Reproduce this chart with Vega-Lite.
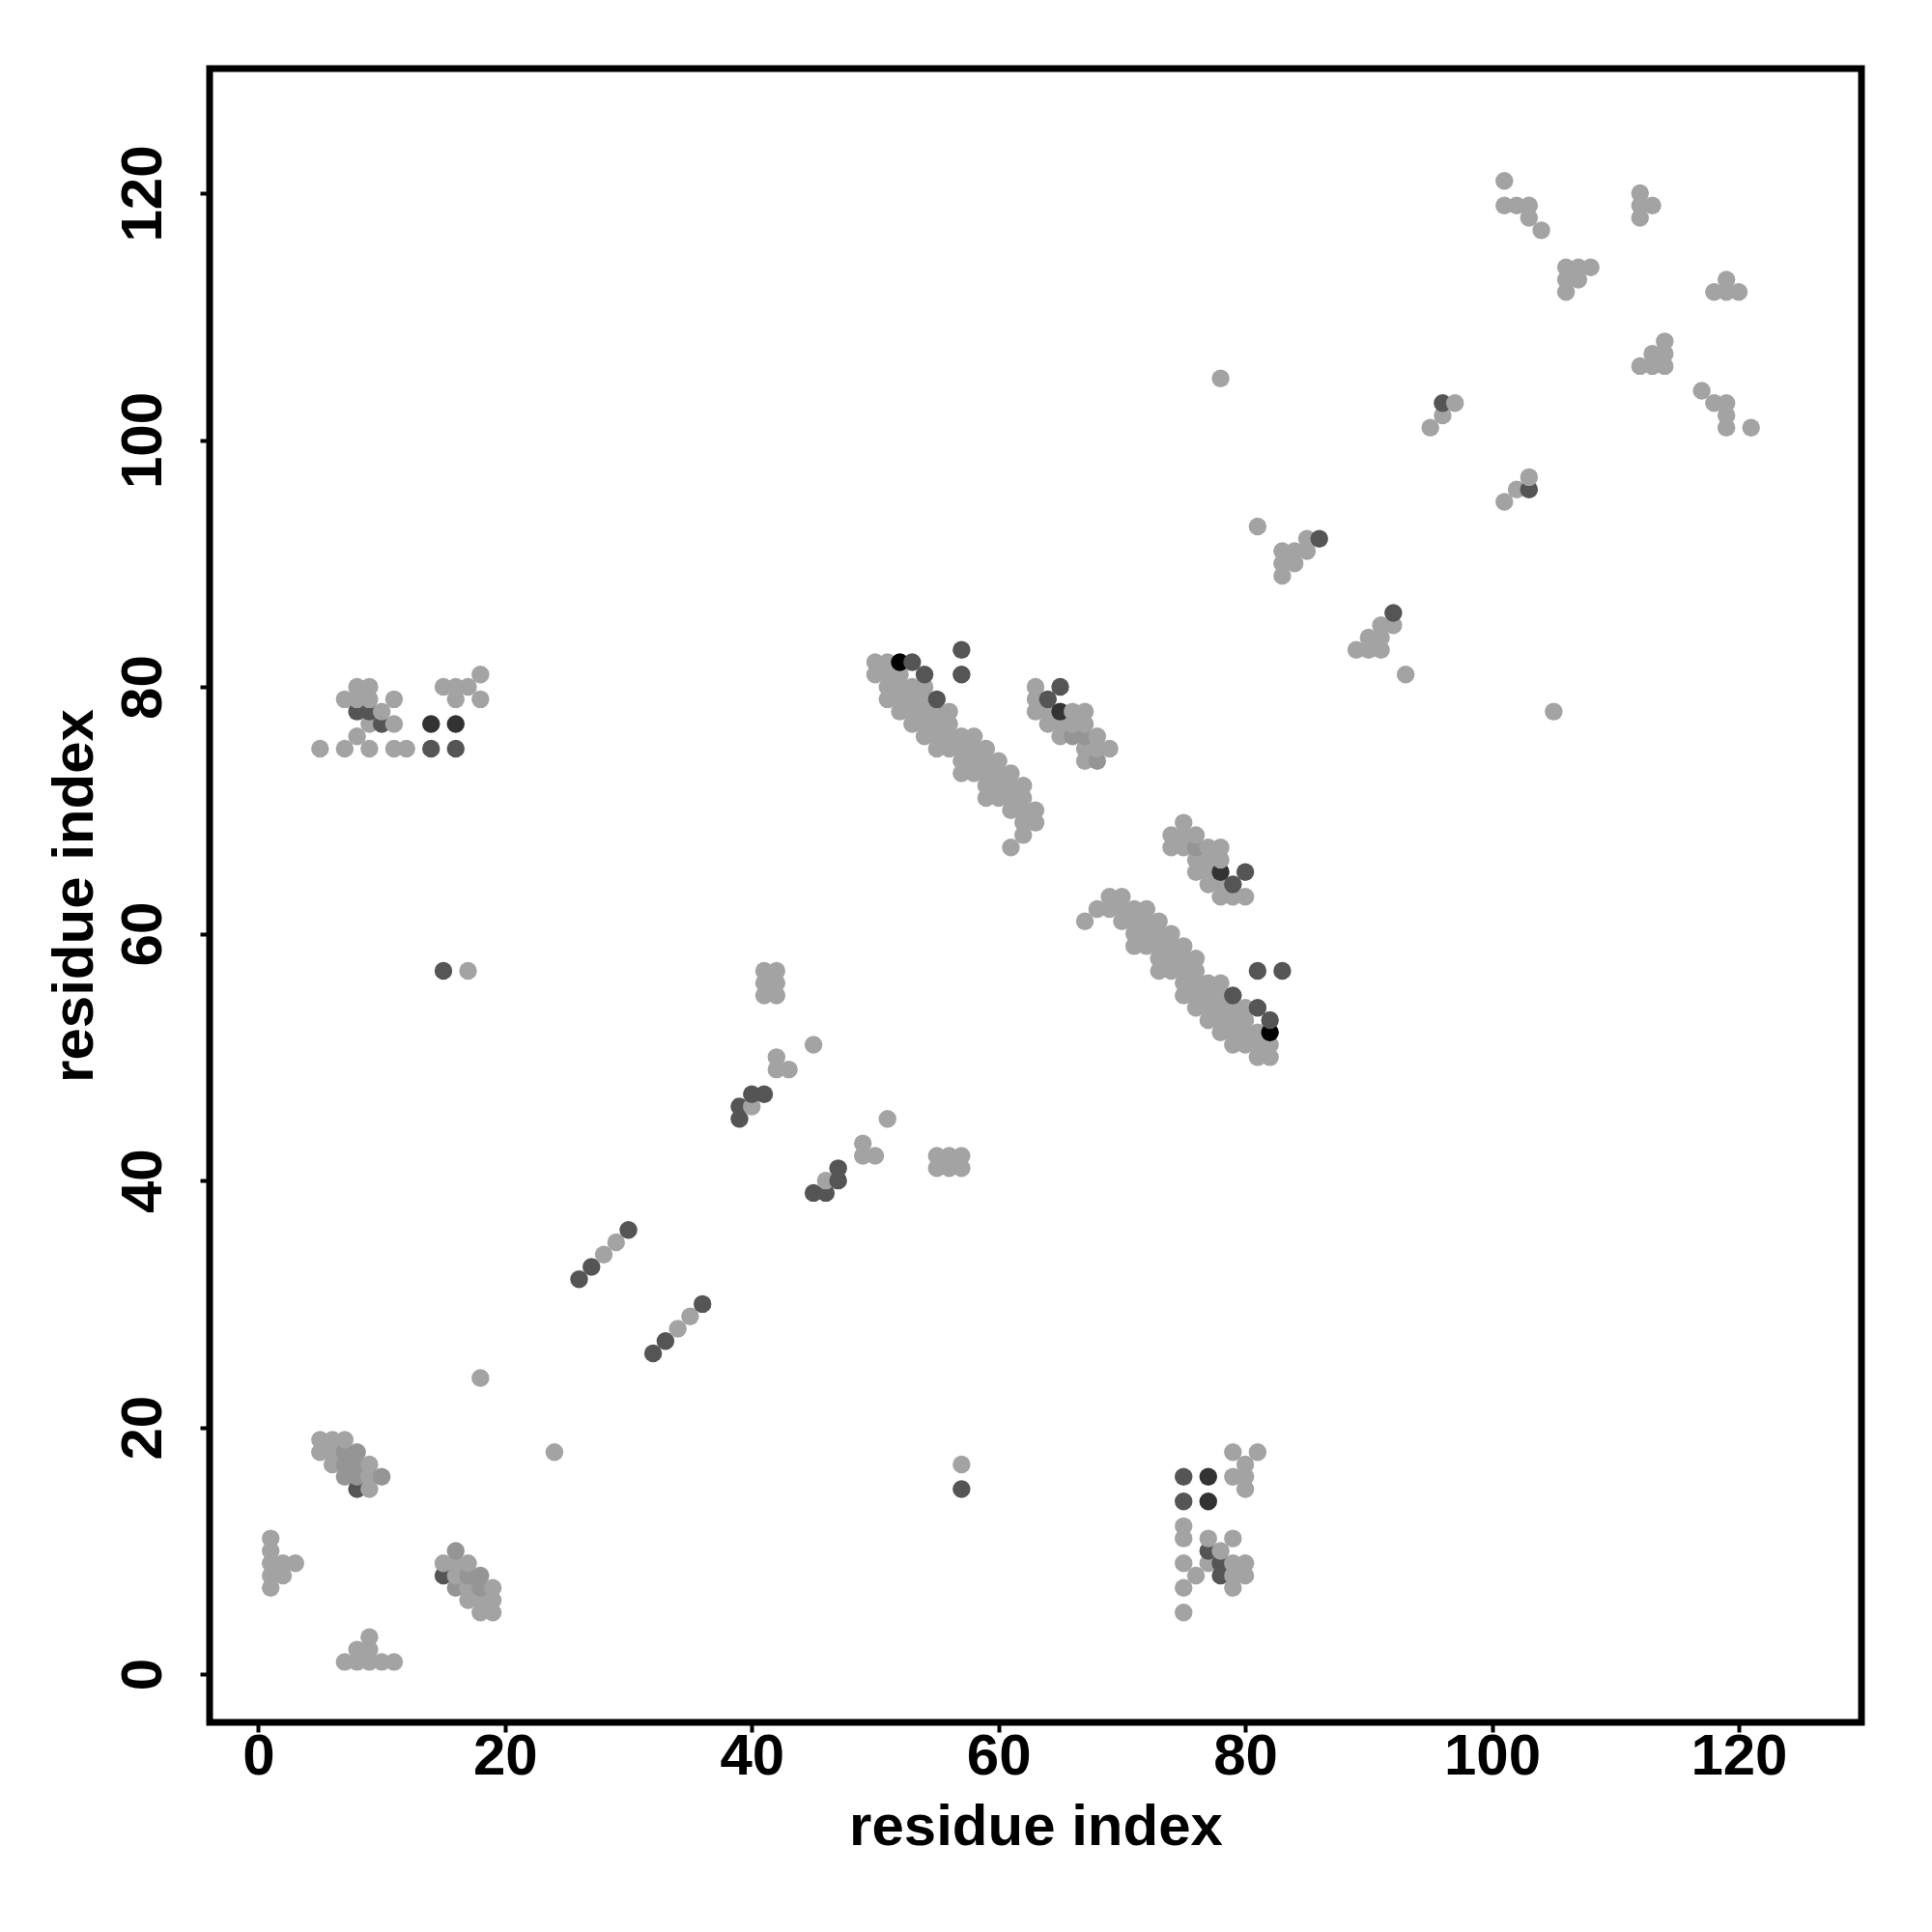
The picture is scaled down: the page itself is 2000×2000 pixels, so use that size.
{"$schema":"https://vega.github.io/schema/vega-lite/v6.json","width":1710,"height":1712,"autosize":{"type":"none"},"padding":{"left":217,"top":71,"right":73,"bottom":217},"background":"white","config":{"view":{"stroke":"black","strokeWidth":7,"fill":"white"},"font":"Liberation Sans"},"data":{"values":[
{"i":1,"j":7,"k":1},{"i":1,"j":8,"k":1},{"i":1,"j":9,"k":1},{"i":1,"j":10,"k":1},{"i":1,"j":11,"k":1},{"i":2,"j":8,"k":1},{"i":2,"j":9,"k":1},{"i":3,"j":9,"k":1},
{"i":5,"j":18,"k":1},{"i":5,"j":19,"k":1},{"i":5,"j":75,"k":1},{"i":6,"j":17,"k":1},{"i":6,"j":18,"k":1},{"i":6,"j":19,"k":1},
{"i":7,"j":1,"k":1},{"i":7,"j":16,"k":2},{"i":7,"j":17,"k":2},{"i":7,"j":18,"k":2},{"i":7,"j":19,"k":1},{"i":7,"j":75,"k":1},{"i":7,"j":79,"k":1},
{"i":8,"j":1,"k":1},{"i":8,"j":2,"k":1},{"i":8,"j":15,"k":3},{"i":8,"j":16,"k":2},{"i":8,"j":17,"k":2},{"i":8,"j":18,"k":2},{"i":8,"j":76,"k":1},{"i":8,"j":78,"k":3},{"i":8,"j":79,"k":1},{"i":8,"j":80,"k":1},
{"i":9,"j":1,"k":1},{"i":9,"j":2,"k":1},{"i":9,"j":3,"k":1},{"i":9,"j":15,"k":1},{"i":9,"j":16,"k":1},{"i":9,"j":17,"k":1},{"i":9,"j":75,"k":1},{"i":9,"j":77,"k":1},{"i":9,"j":78,"k":3},{"i":9,"j":79,"k":1},{"i":9,"j":80,"k":1},
{"i":10,"j":1,"k":1},{"i":10,"j":16,"k":2},{"i":10,"j":77,"k":3},{"i":10,"j":78,"k":1},
{"i":11,"j":1,"k":1},{"i":11,"j":75,"k":1},{"i":11,"j":77,"k":1},{"i":11,"j":79,"k":1},{"i":12,"j":75,"k":1},
{"i":14,"j":75,"k":3},{"i":14,"j":77,"k":4},
{"i":15,"j":8,"k":3},{"i":15,"j":9,"k":1},{"i":15,"j":57,"k":3},{"i":15,"j":80,"k":1},
{"i":16,"j":7,"k":2},{"i":16,"j":8,"k":1},{"i":16,"j":9,"k":1},{"i":16,"j":10,"k":2},{"i":16,"j":75,"k":3},{"i":16,"j":77,"k":4},{"i":16,"j":79,"k":1},{"i":16,"j":80,"k":1},
{"i":17,"j":6,"k":1},{"i":17,"j":7,"k":1},{"i":17,"j":8,"k":2},{"i":17,"j":9,"k":1},{"i":17,"j":57,"k":1},{"i":17,"j":80,"k":1},
{"i":18,"j":5,"k":1},{"i":18,"j":6,"k":1},{"i":18,"j":7,"k":2},{"i":18,"j":8,"k":2},{"i":18,"j":24,"k":1},{"i":18,"j":79,"k":1},{"i":18,"j":81,"k":1},
{"i":19,"j":5,"k":1},{"i":19,"j":6,"k":1},{"i":19,"j":7,"k":1},{"i":24,"j":18,"k":1},
{"i":26,"j":32,"k":3},{"i":27,"j":33,"k":3},{"i":28,"j":34,"k":1},{"i":29,"j":35,"k":1},{"i":30,"j":36,"k":3},
{"i":32,"j":26,"k":3},{"i":33,"j":27,"k":3},{"i":34,"j":28,"k":1},{"i":35,"j":29,"k":1},{"i":36,"j":30,"k":3},
{"i":39,"j":45,"k":3},{"i":39,"j":46,"k":3},{"i":40,"j":46,"k":1},{"i":40,"j":47,"k":3},
{"i":41,"j":47,"k":3},{"i":41,"j":55,"k":1},{"i":41,"j":56,"k":1},{"i":41,"j":57,"k":1},
{"i":42,"j":49,"k":1},{"i":42,"j":50,"k":1},{"i":42,"j":55,"k":1},{"i":42,"j":56,"k":1},{"i":42,"j":57,"k":1},{"i":43,"j":49,"k":1},
{"i":45,"j":39,"k":3},{"i":45,"j":51,"k":1},{"i":46,"j":39,"k":3},{"i":46,"j":40,"k":1},{"i":47,"j":40,"k":3},{"i":47,"j":41,"k":3},
{"i":49,"j":42,"k":1},{"i":49,"j":43,"k":1},{"i":50,"j":42,"k":1},{"i":50,"j":81,"k":1},{"i":50,"j":82,"k":1},
{"i":51,"j":45,"k":1},{"i":51,"j":79,"k":1},{"i":51,"j":80,"k":1},{"i":51,"j":81,"k":1},{"i":51,"j":82,"k":1},
{"i":52,"j":78,"k":1},{"i":52,"j":79,"k":1},{"i":52,"j":80,"k":1},{"i":52,"j":81,"k":1},{"i":52,"j":82,"k":5},
{"i":53,"j":77,"k":1},{"i":53,"j":78,"k":1},{"i":53,"j":79,"k":1},{"i":53,"j":80,"k":1},{"i":53,"j":82,"k":3},
{"i":54,"j":76,"k":1},{"i":54,"j":77,"k":1},{"i":54,"j":78,"k":1},{"i":54,"j":79,"k":1},{"i":54,"j":80,"k":1},{"i":54,"j":81,"k":3},
{"i":55,"j":41,"k":1},{"i":55,"j":42,"k":1},{"i":55,"j":75,"k":1},{"i":55,"j":76,"k":1},{"i":55,"j":77,"k":1},{"i":55,"j":78,"k":1},{"i":55,"j":79,"k":3},
{"i":56,"j":41,"k":1},{"i":56,"j":42,"k":1},{"i":56,"j":75,"k":1},{"i":56,"j":76,"k":1},{"i":56,"j":77,"k":1},{"i":56,"j":78,"k":1},
{"i":57,"j":15,"k":3},{"i":57,"j":17,"k":1},{"i":57,"j":41,"k":1},{"i":57,"j":42,"k":1},{"i":57,"j":73,"k":1},{"i":57,"j":74,"k":1},{"i":57,"j":75,"k":1},{"i":57,"j":76,"k":1},{"i":57,"j":81,"k":3},{"i":57,"j":83,"k":3},
{"i":58,"j":73,"k":1},{"i":58,"j":74,"k":1},{"i":58,"j":75,"k":1},{"i":58,"j":76,"k":1},
{"i":59,"j":71,"k":1},{"i":59,"j":72,"k":1},{"i":59,"j":73,"k":1},{"i":59,"j":74,"k":1},{"i":59,"j":75,"k":1},
{"i":60,"j":71,"k":1},{"i":60,"j":72,"k":1},{"i":60,"j":73,"k":1},{"i":60,"j":74,"k":1},
{"i":61,"j":67,"k":1},{"i":61,"j":70,"k":1},{"i":61,"j":71,"k":1},{"i":61,"j":72,"k":1},{"i":61,"j":73,"k":1},
{"i":62,"j":68,"k":1},{"i":62,"j":69,"k":1},{"i":62,"j":70,"k":1},{"i":62,"j":71,"k":1},{"i":62,"j":72,"k":1},
{"i":63,"j":69,"k":1},{"i":63,"j":70,"k":1},{"i":63,"j":78,"k":1},{"i":63,"j":79,"k":1},{"i":63,"j":80,"k":1},
{"i":64,"j":77,"k":1},{"i":64,"j":78,"k":1},{"i":64,"j":79,"k":3},
{"i":65,"j":76,"k":1},{"i":65,"j":77,"k":1},{"i":65,"j":78,"k":4},{"i":65,"j":80,"k":3},
{"i":66,"j":76,"k":2},{"i":66,"j":77,"k":1},{"i":66,"j":78,"k":1},
{"i":67,"j":61,"k":1},{"i":67,"j":74,"k":1},{"i":67,"j":75,"k":1},{"i":67,"j":76,"k":2},{"i":67,"j":77,"k":1},{"i":67,"j":78,"k":1},
{"i":68,"j":62,"k":1},{"i":68,"j":74,"k":2},{"i":68,"j":75,"k":1},{"i":68,"j":76,"k":1},
{"i":69,"j":62,"k":1},{"i":69,"j":63,"k":1},{"i":69,"j":75,"k":1},
{"i":70,"j":61,"k":1},{"i":70,"j":62,"k":1},{"i":70,"j":63,"k":1},
{"i":71,"j":59,"k":1},{"i":71,"j":60,"k":1},{"i":71,"j":61,"k":1},{"i":71,"j":62,"k":1},
{"i":72,"j":59,"k":1},{"i":72,"j":60,"k":1},{"i":72,"j":61,"k":1},{"i":72,"j":62,"k":1},
{"i":73,"j":57,"k":1},{"i":73,"j":58,"k":1},{"i":73,"j":59,"k":1},{"i":73,"j":60,"k":1},{"i":73,"j":61,"k":1},
{"i":74,"j":57,"k":1},{"i":74,"j":58,"k":1},{"i":74,"j":59,"k":1},{"i":74,"j":60,"k":1},{"i":74,"j":67,"k":1},{"i":74,"j":68,"k":1},
{"i":75,"j":5,"k":1},{"i":75,"j":7,"k":1},{"i":75,"j":9,"k":1},{"i":75,"j":11,"k":1},{"i":75,"j":12,"k":1},{"i":75,"j":14,"k":3},{"i":75,"j":16,"k":3},{"i":75,"j":55,"k":1},{"i":75,"j":56,"k":1},{"i":75,"j":57,"k":1},{"i":75,"j":58,"k":1},{"i":75,"j":59,"k":1},{"i":75,"j":67,"k":1},{"i":75,"j":68,"k":1},{"i":75,"j":69,"k":1},
{"i":76,"j":8,"k":1},{"i":76,"j":54,"k":1},{"i":76,"j":55,"k":1},{"i":76,"j":56,"k":1},{"i":76,"j":57,"k":1},{"i":76,"j":58,"k":1},{"i":76,"j":65,"k":1},{"i":76,"j":66,"k":1},{"i":76,"j":67,"k":2},{"i":76,"j":68,"k":1},
{"i":77,"j":9,"k":1},{"i":77,"j":10,"k":3},{"i":77,"j":11,"k":1},{"i":77,"j":14,"k":4},{"i":77,"j":16,"k":4},{"i":77,"j":53,"k":1},{"i":77,"j":54,"k":1},{"i":77,"j":55,"k":1},{"i":77,"j":56,"k":1},{"i":77,"j":64,"k":1},{"i":77,"j":65,"k":1},{"i":77,"j":66,"k":1},{"i":77,"j":67,"k":1},
{"i":78,"j":8,"k":3},{"i":78,"j":9,"k":3},{"i":78,"j":10,"k":1},{"i":78,"j":52,"k":1},{"i":78,"j":53,"k":1},{"i":78,"j":54,"k":1},{"i":78,"j":55,"k":1},{"i":78,"j":56,"k":1},{"i":78,"j":63,"k":1},{"i":78,"j":64,"k":1},{"i":78,"j":65,"k":4},{"i":78,"j":66,"k":1},{"i":78,"j":67,"k":1},{"i":78,"j":105,"k":1},
{"i":79,"j":7,"k":1},{"i":79,"j":8,"k":1},{"i":79,"j":9,"k":1},{"i":79,"j":11,"k":1},{"i":79,"j":16,"k":1},{"i":79,"j":18,"k":1},{"i":79,"j":51,"k":1},{"i":79,"j":52,"k":1},{"i":79,"j":53,"k":1},{"i":79,"j":54,"k":1},{"i":79,"j":55,"k":3},{"i":79,"j":63,"k":1},{"i":79,"j":64,"k":3},
{"i":80,"j":8,"k":1},{"i":80,"j":9,"k":1},{"i":80,"j":15,"k":1},{"i":80,"j":16,"k":1},{"i":80,"j":17,"k":1},{"i":80,"j":51,"k":1},{"i":80,"j":52,"k":1},{"i":80,"j":53,"k":1},{"i":80,"j":54,"k":1},{"i":80,"j":63,"k":1},{"i":80,"j":65,"k":3},
{"i":81,"j":18,"k":1},{"i":81,"j":50,"k":1},{"i":81,"j":51,"k":1},{"i":81,"j":52,"k":1},{"i":81,"j":54,"k":3},{"i":81,"j":57,"k":3},{"i":81,"j":93,"k":1},
{"i":82,"j":50,"k":1},{"i":82,"j":51,"k":1},{"i":82,"j":52,"k":5},{"i":82,"j":53,"k":3},
{"i":83,"j":57,"k":3},{"i":83,"j":89,"k":1},{"i":83,"j":90,"k":1},{"i":83,"j":91,"k":1},{"i":84,"j":90,"k":1},{"i":84,"j":91,"k":1},{"i":85,"j":91,"k":1},{"i":85,"j":92,"k":1},{"i":86,"j":92,"k":3},
{"i":89,"j":83,"k":1},{"i":90,"j":83,"k":1},{"i":90,"j":84,"k":1},{"i":91,"j":83,"k":1},{"i":91,"j":84,"k":1},{"i":91,"j":85,"k":1},{"i":92,"j":85,"k":1},{"i":92,"j":86,"k":3},{"i":93,"j":81,"k":1},
{"i":95,"j":101,"k":1},{"i":96,"j":102,"k":1},{"i":96,"j":103,"k":3},{"i":97,"j":103,"k":1},
{"i":101,"j":95,"k":1},{"i":101,"j":119,"k":1},{"i":101,"j":121,"k":1},{"i":102,"j":96,"k":1},{"i":102,"j":119,"k":1},{"i":103,"j":96,"k":3},{"i":103,"j":97,"k":1},{"i":103,"j":118,"k":1},{"i":103,"j":119,"k":1},{"i":104,"j":117,"k":1},{"i":105,"j":78,"k":1},
{"i":106,"j":112,"k":1},{"i":106,"j":113,"k":1},{"i":106,"j":114,"k":1},{"i":107,"j":113,"k":1},{"i":107,"j":114,"k":1},{"i":108,"j":114,"k":1},
{"i":112,"j":106,"k":1},{"i":112,"j":118,"k":1},{"i":112,"j":119,"k":1},{"i":112,"j":120,"k":1},{"i":113,"j":106,"k":1},{"i":113,"j":107,"k":1},{"i":113,"j":119,"k":1},{"i":114,"j":106,"k":1},{"i":114,"j":107,"k":1},{"i":114,"j":108,"k":1},
{"i":117,"j":104,"k":1},{"i":118,"j":103,"k":1},{"i":118,"j":112,"k":1},{"i":119,"j":101,"k":1},{"i":119,"j":102,"k":1},{"i":119,"j":103,"k":1},{"i":119,"j":112,"k":1},{"i":119,"j":113,"k":1},{"i":120,"j":112,"k":1},{"i":121,"j":101,"k":1}
]},"mark":{"type":"point","filled":true,"opacity":1,"shape":"circle","size":340,"strokeWidth":0},"encoding":{
"x":{"field":"i","type":"quantitative","scale":{"domain":[-3.95,129.95],"nice":false,"zero":false},"axis":{"values":[0,20,40,60,80,100,120],"grid":false,"domain":false,"tickColor":"black","tickSize":10,"tickWidth":4,"labelColor":"black","labelFont":"Liberation Sans","labelFontWeight":"bold","labelFontSize":60,"labelPadding":-4,"title":"residue index","titleFont":"Liberation Sans","titleFontWeight":"bold","titleFontSize":60,"titleColor":"black","titlePadding":14}},
"y":{"field":"j","type":"quantitative","scale":{"domain":[-3.9,130.1],"nice":false,"zero":false},"axis":{"values":[0,20,40,60,80,100,120],"grid":false,"domain":false,"tickColor":"black","tickSize":10,"tickWidth":4,"labelColor":"black","labelFont":"Liberation Sans","labelFontWeight":"bold","labelFontSize":60,"labelAngle":-90,"labelAlign":"center","labelBaseline":"bottom","labelPadding":28,"title":"residue index","titleFont":"Liberation Sans","titleFontWeight":"bold","titleFontSize":60,"titleColor":"black","titlePadding":10}},
"color":{"field":"k","type":"ordinal","scale":{"domain":[1,2,3,4,5],"range":["#a3a3a3","#959595","#555555","#333333","#000000"]},"legend":null}}}
